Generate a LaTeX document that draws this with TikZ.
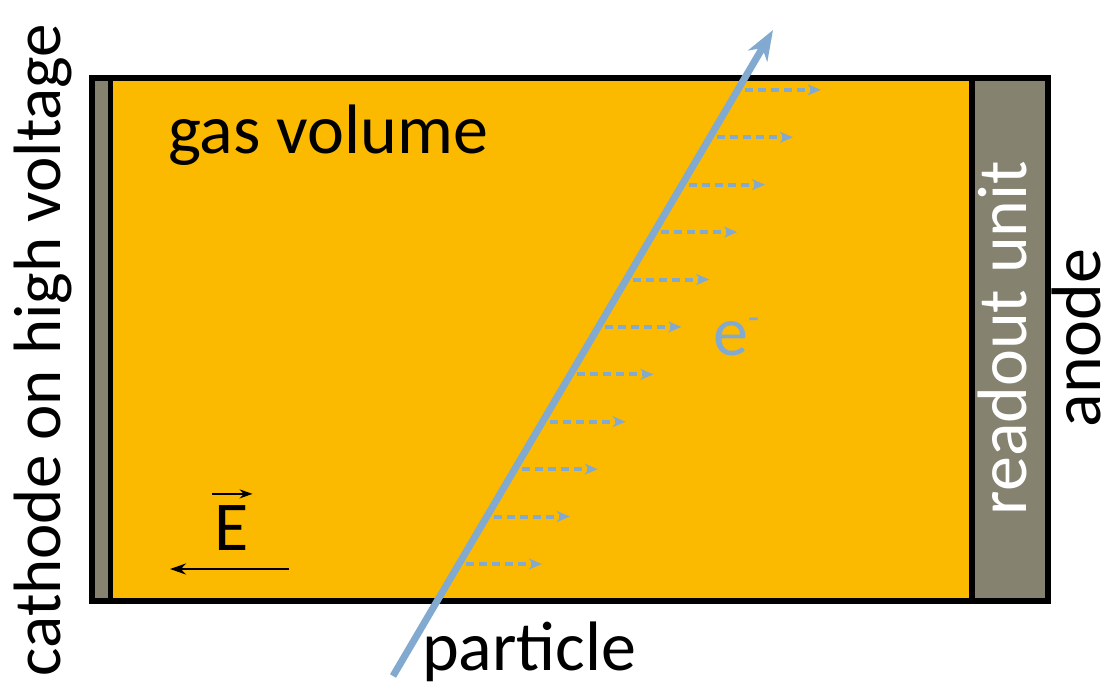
\documentclass[tikz,border=0pt]{standalone}
\usepackage{fontspec}
\setmainfont{Carlito}
\usetikzlibrary{arrows.meta,calc}
\definecolor{gasyellow}{HTML}{FBB900}
\definecolor{electrode}{HTML}{858270}
\definecolor{trackblue}{HTML}{82AAD0}

\begin{document}
\begin{tikzpicture}[x=1pt, y=-1pt, font=\fontsize{67}{80}\selectfont,
  frame/.style={draw=black, line width=6pt},
  label/.style={inner sep=0pt},
  big/.style={font=\fontsize{70}{84}\selectfont},
  drift/.style={trackblue, line width=4pt, dash pattern=on 8pt off 5pt, -{Stealth[length=13pt, width=11pt, inset=4pt]}}]
\useasboundingbox (0,0) rectangle (1107,691);
% chamber: gas, cathode plate, readout plane
\fill[gasyellow] (92,78) rectangle (1048,601);
\fill[electrode] (92,78) rectangle (111,601);
\fill[electrode] (972,78) rectangle (1048,601);
\draw[frame] (92,78) rectangle (1048,601);
\draw[draw=black, line width=5pt] (110.5,78) -- (110.5,601);
\draw[frame] (972,78) -- (972,601);
% labels
\node[label, big, anchor=base west] (gas) at (168,153) {gas volume};
\node[label, anchor=base, rotate=90] (cathode) at (60,350) {cathode on high voltage};
\node[label, big, anchor=base, rotate=90, white] (readout) at (1026,338) {readout unit};
\node[label, big, anchor=base, rotate=90] (anode) at (1100,338) {anode};
\node[label, big, anchor=base west] (particle) at (422,670) {particle};
\node[label, big, anchor=base west, trackblue] (electron) at (713,355) {e\raisebox{26pt}{\fontsize{36}{36}\selectfont -}};
% field direction
\node[label, big, anchor=base west] (field) at (214,550) {E};
\coordinate (vl) at ($(field.north west)+(-2,-11)$);
\coordinate (vr) at ($(field.north east)+(4,-11)$);
\draw[line width=2pt, -{Stealth[length=13pt, width=9pt]}] (vl) -- (vr);
\coordinate (fr) at (289,569);
\coordinate (fl) at (170,569);
\draw[line width=2.5pt, -{Stealth[length=16pt, width=11pt]}] (fr) -- (fl);
% particle track with drifting electrons
\coordinate (p0) at (393,676);
\coordinate (p1) at (773,30);
\foreach \i in {0,...,10} {
  \pgfmathsetmacro\t{0.1734+0.0734*\i}
  \coordinate (d\i) at ($(p0)!\t!(p1)+(7,0)$);
  \coordinate (h\i) at ($(d\i)+(76,0)$);
  \draw[drift] (d\i) -- (h\i);
}
\draw[trackblue, line width=7pt, -{Stealth[length=30pt, width=22pt, inset=9pt]}] (p0) -- (p1);
\end{tikzpicture}
\end{document}
